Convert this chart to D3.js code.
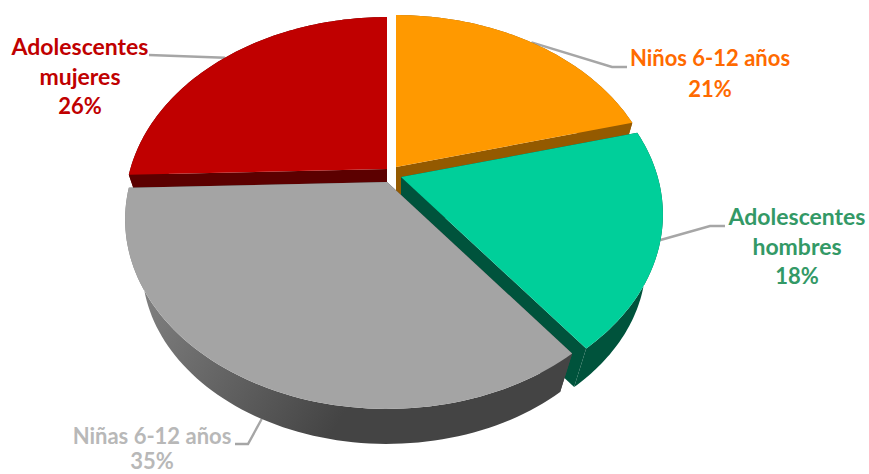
<!DOCTYPE html>
<html>
<head>
<meta charset="utf-8">
<script src="https://cdnjs.cloudflare.com/ajax/libs/d3/7.8.5/d3.min.js"></script>
<style>
  html, body { margin: 0; padding: 0; background: #fff; }
  svg { display: block; }
  text { font-family: Lato, "Open Sans", sans-serif; font-weight: 700; font-size: 22px; text-anchor: middle; }
</style>
</head>
<body>
<script>
// slices clockwise from 12 o'clock
var categories = [["Niños 6-12 años"], ["Adolescentes", "hombres"], ["Niñas 6-12 años"], ["Adolescentes", "mujeres"]];
// printed on the chart
var percentLabels = ["21%", "18%", "35%", "26%"];
var values = [20.9, 18.7, 34.9, 25.5];

var topColors = ["#ff9900", "#00cf9a", "#a4a4a4", "#c00000"];
var wallColors = ["#945a00", "#00533c", "#444444", "#5c0000"];
var labelColors = ["#ff6a00", "#339966", "#b8b8b8", "#c00000"];

// where each exploded slice has its tip
var tips = [[396, 167], [401, 177], [387, 182], [387, 169]];
// label centre x, font size, line baselines, leader elbow
var labelPos = [
  {x: 710, size: 22, y: [66, 97], elbow: [[612, 67], [627, 67]]},
  {x: 797, size: 23, y: [225, 255, 284], elbow: [[710, 226], [725, 226]]},
  {x: 152, size: 22, y: [444, 469], elbow: [[248, 444], [235, 444]]},
  {x: 80, size: 23, y: [55, 85, 114], elbow: [[149, 55]]}
];

var width = 869, height = 474;
// perspective of the tilted disc
var persp = 0.198, rx = 256.7, ry = 182;
var vanishY = 765, bottomScale = 0.935;

var svg = d3.select("body").append("svg").attr("width", width).attr("height", height);

var defs = svg.append("defs");
var grad = defs.append("linearGradient").attr("id", "greyWall")
  .attr("gradientUnits", "userSpaceOnUse")
  .attr("x1", 140).attr("y1", 300).attr("x2", 340).attr("y2", 420);
grad.append("stop").attr("offset", 0).attr("stop-color", "#808080");
grad.append("stop").attr("offset", 1).attr("stop-color", "#444444");

var arcs = d3.pie().sort(null).value(function(d){ return d; })(values);

function project(i, t){
  var u = Math.sin(t), v = -Math.cos(t);
  var w = 1 - persp * v;
  return [tips[i][0] + rx * u / w, tips[i][1] + ry * v / w];
}
function toBottom(i, p){
  var vy = tips[i][1] + vanishY;
  return [tips[i][0] + (p[0] - tips[i][0]) * bottomScale, vy - (vy - p[1]) * bottomScale];
}
function arcPoints(i){
  var a = arcs[i], n = 80;
  return d3.range(n + 1).map(function(k){
    return project(i, a.startAngle + (a.endAngle - a.startAngle) * k / n);
  });
}

var line = d3.line();

// leaders go under the pie
var leaders = svg.append("g");
arcs.forEach(function(a, i){
  var mid = project(i, (a.startAngle + a.endAngle) / 2);
  if(i == 2){ mid = toBottom(i, mid); }
  leaders.append("path")
    .attr("d", line([mid].concat(labelPos[i].elbow)))
    .attr("fill", "none")
    .attr("stroke", "#a6a6a6")
    .attr("stroke-width", 2.4);
});

// back to front
[3, 0, 1, 2].forEach(function(i){
  var g = svg.append("g");
  var pts = arcPoints(i);
  var tip = tips[i];
  var wallFill = i == 2 ? "url(#greyWall)" : wallColors[i];
  // both cut faces, the far one ends up hidden under the top
  [pts[0], pts[pts.length - 1]].forEach(function(edge){
    g.append("path")
      .attr("d", line([tip, edge, toBottom(i, edge), toBottom(i, tip)]) + "Z")
      .attr("fill", wallColors[i]);
  });
  // outer rim
  g.append("path")
    .attr("d", line(pts.concat(pts.map(function(p){ return toBottom(i, p); }).reverse())) + "Z")
    .attr("fill", wallFill);
  // top
  g.append("path")
    .attr("d", line([tip].concat(pts)) + "Z")
    .attr("fill", topColors[i]);
});

var labels = svg.append("g");
arcs.forEach(function(a, i){
  var lines = categories[i].concat([percentLabels[i]]);
  lines.forEach(function(s, k){
    labels.append("text")
      .attr("x", labelPos[i].x)
      .attr("y", labelPos[i].y[k])
      .attr("fill", labelColors[i])
      .style("font-size", (k == lines.length - 1 ? 22 : labelPos[i].size) + "px")
      .text(s);
  });
});
</script>
</body>
</html>
